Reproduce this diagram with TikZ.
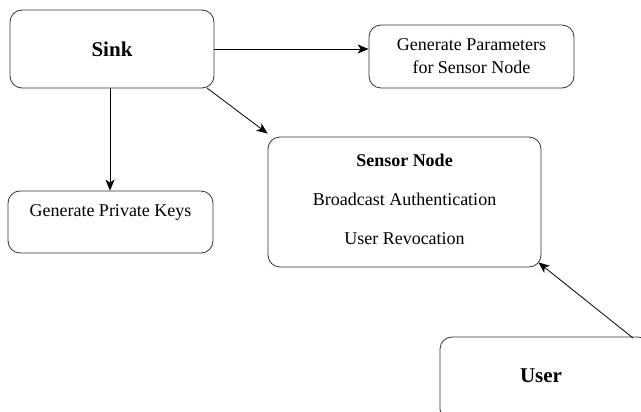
\documentclass[tikz,border=0pt]{standalone}
\usepackage{fontspec}
\setmainfont{Liberation Serif}
\usetikzlibrary{arrows.meta,calc}
\tikzset{
  box/.style={draw=black!80, line width=0.8pt, rounded corners=12pt, inner sep=0pt, align=center},
  arr/.style={line width=0.8pt, -{Stealth[length=11pt,width=9pt,inset=3pt]}},
  regtxt/.style={font=\fontsize{18}{23}\selectfont},
  bigbold/.style={font=\fontsize{21}{25}\selectfont\bfseries}
}
\begin{document}
\begin{tikzpicture}[x=1pt,y=-1pt]
\useasboundingbox (0,0) rectangle (641,412);
\clip (0,0) rectangle (641,412);
\node[box, minimum width=204pt, minimum height=78pt, bigbold] (sink) at (112,49) {Sink};
\node[box, minimum width=205pt, minimum height=63pt, regtxt] (params) at (471.5,56.5) {Generate Parameters\\for Sensor Node};
\node[box, minimum width=205pt, minimum height=62pt] (priv) at (110.5,222) {};
\node[regtxt] (privtxt) at (110.5,212) {Generate Private Keys};
\node[box, minimum width=273pt, minimum height=130pt] (sensor) at (404.5,202) {};
\node[regtxt, font=\fontsize{18}{23}\selectfont\bfseries] (st1) at (404.5,160) {Sensor Node};
\node[regtxt] (st2) at (404.5,199) {Broadcast Authentication};
\node[regtxt] (st3) at (404.5,239) {User Revocation};
\node[box, minimum width=210pt, minimum height=84pt] (user) at (545,379) {};
\node[bigbold] (usertxt) at (541,376) {User};
\coordinate (ustart) at (633,338);
\coordinate (sdiag) at (207,88);
\draw[arr] (sink.east) -- (sink.east -| params.west);
\draw[arr] ([xshift=-2pt]sink.south) -- ([xshift=-2pt]sink.south |- priv.north);
\draw[arr] (sdiag) -- ([yshift=3pt]sensor.north west);
\draw[arr] (ustart) -- ($(sensor.south east)+(-3,-5)$);
\end{tikzpicture}
\end{document}
